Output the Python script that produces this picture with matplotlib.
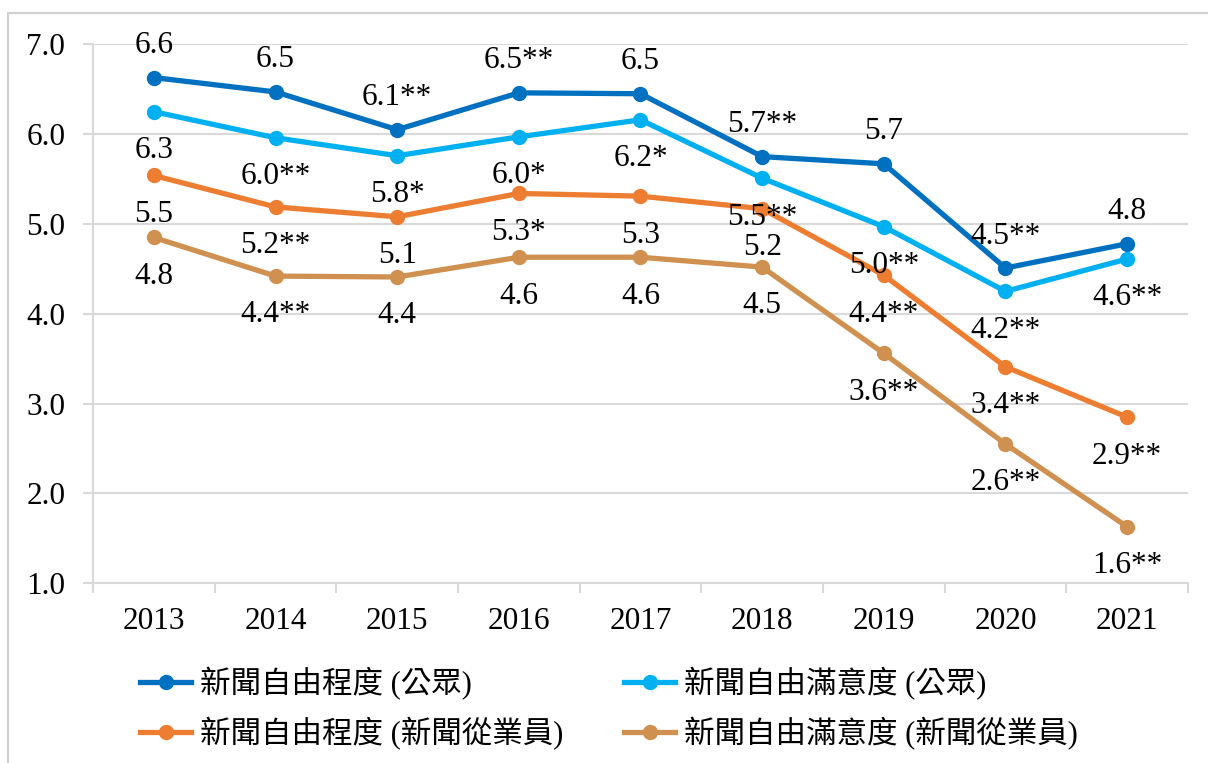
import matplotlib
matplotlib.use("Agg")
import matplotlib.pyplot as plt
from matplotlib.patches import Rectangle

years = ["2013", "2014", "2015", "2016", "2017", "2018", "2019", "2020", "2021"]

names = ["新聞自由程度 (公眾)", "新聞自由滿意度 (公眾)",
         "新聞自由程度 (新聞從業員)", "新聞自由滿意度 (新聞從業員)"]

free_public = [6.63, 6.47, 6.05, 6.46, 6.45, 5.75, 5.67, 4.51, 4.78]
sat_public = [6.25, 5.96, 5.76, 5.97, 6.16, 5.51, 4.97, 4.25, 4.61]
free_journ = [5.54, 5.19, 5.08, 5.34, 5.31, 5.17, 4.43, 3.41, 2.85]
sat_journ = [4.85, 4.42, 4.41, 4.63, 4.63, 4.52, 3.56, 2.55, 1.63]

lab_free_public = ["6.6", "6.5", "6.1**", "6.5**", "6.5", "5.7**", "5.7", "4.5**", "4.8"]
lab_sat_public = ["6.3", "6.0**", "5.8*", "6.0*", "6.2*", "5.5**", "5.0**", "4.2**", "4.6**"]
lab_free_journ = ["5.5", "5.2**", "5.1", "5.3*", "5.3", "5.2", "4.4**", "3.4**", "2.9**"]
lab_sat_journ = ["4.8", "4.4**", "4.4", "4.6", "4.6", "4.5", "3.6**", "2.6**", "1.6**"]

colors = ["#0070C0", "#00B0F0", "#ED7D31", "#D09150"]

series = [free_public, sat_public, free_journ, sat_journ]
labels = [lab_free_public, lab_sat_public, lab_free_journ, lab_sat_journ]
offsets = [23, -28, -28, -28]

serif = "Liberation Serif"
legend_font = ["Liberation Serif", "Noto Sans CJK TC"]
grid_c = "#D9D9D9"

fig = plt.figure(figsize=(12.08, 7.63), dpi=100)
ax = fig.add_axes([0.0770, 0.2355, 0.9064, 0.7064])

x = list(range(len(years)))
lines = []
for vals, labs, c, name, off in zip(series, labels, colors, names, offsets):
    ln, = ax.plot(x, vals, color=c, lw=3.8, marker="o", ms=10, label=name, zorder=3)
    lines.append(ln)
    for xi, v, t in zip(x, vals, labs):
        ax.annotate(t, (xi, v), xytext=(0, off), textcoords="offset points",
                    ha="center", va="center", fontsize=22.5, family=serif, zorder=4)

ax.set_xlim(-0.5, len(years) - 0.5)
ax.set_ylim(1, 7)
ax.set_yticks([1, 2, 3, 4, 5, 6, 7])
ax.set_yticklabels(["%.1f" % v for v in [1, 2, 3, 4, 5, 6, 7]], family=serif, fontsize=22.5)
ax.set_xticks(x)
ax.set_xticklabels(years, family=serif, fontsize=22.5)
ax.set_xticks([i - 0.5 for i in range(len(years) + 1)], minor=True)
ax.tick_params(axis="x", which="major", length=0, pad=17)
ax.tick_params(axis="x", which="minor", length=7, width=1.5, color=grid_c)
ax.tick_params(axis="y", length=7, width=1.5, color=grid_c, pad=13)
ax.grid(axis="y", color=grid_c, lw=1.5, zorder=0)
ax.set_axisbelow(True)
for s in ["top", "right"]:
    ax.spines[s].set_visible(False)
for s in ["left", "bottom"]:
    ax.spines[s].set_color(grid_c)
    ax.spines[s].set_linewidth(1.5)

# legend is filled column by column, so reorder to get row-major layout
order = [0, 2, 1, 3]
fig.legend([lines[i] for i in order], [names[i] for i in order],
           loc="upper left", bbox_to_anchor=(0.1035, 0.146), ncol=2, frameon=False,
           prop={"family": legend_font, "size": 22}, handlelength=1.65,
           handletextpad=0.3, columnspacing=2.0, labelspacing=0.55, borderpad=0)

fig.patches.append(Rectangle((8 / 1208, -0.1), 1.2, 1.1 - 13 / 763,
                             transform=fig.transFigure, fill=False,
                             edgecolor="#CFCFCF", lw=1.5))

fig.savefig("out.png", dpi=100)
